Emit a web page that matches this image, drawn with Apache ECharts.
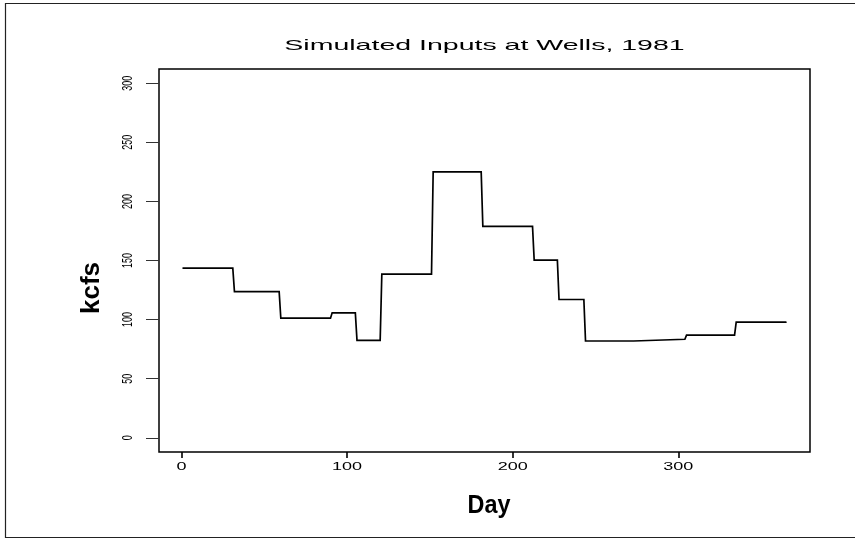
<!DOCTYPE html>
<html>
<head>
<meta charset="utf-8">
<script src="https://cdn.jsdelivr.net/npm/echarts@6/dist/echarts.min.js"></script>
<style>
  html, body { margin: 0; padding: 0; background: #fff; }
  #chart { width: 855px; height: 544px; }
</style>
</head>
<body>
<div id="chart"></div>
<script>
// Simulated daily inflow at Wells, 1981: piecewise-constant periods (day of year)
const periodStart = [1, 32, 60, 91, 106, 121, 152, 182, 213, 228, 244, 274, 305, 335];
const periodEnd   = [31, 59, 90, 105, 120, 151, 181, 212, 227, 243, 273, 304, 334, 365];
const flowKcfs    = [143.6, 123.7, 101.2, 105.7, 82.5, 138.5, 224.9, 178.8, 150.3, 117.0, 81.9, 83.4, 86.8, 97.8];

const xTicks = [0, 100, 200, 300];
const yTicks = [0, 50, 100, 150, 200, 250, 300];

// Each period contributes its first and last day at its level
const seriesData = [];
periodStart.forEach((s, i) => {
  seriesData.push([s, flowKcfs[i]]);
  seriesData.push([periodEnd[i], flowKcfs[i]]);
});

const chart = echarts.init(document.getElementById('chart'), null, { renderer: 'canvas' });
const fontMain = 'Liberation Sans, Arial, Helvetica, sans-serif';

const GRID = { left: 159, right: 45, top: 69, bottom: 92 };

chart.setOption({
  animation: false,
  backgroundColor: '#ffffff',
  grid: {
    left: GRID.left, right: GRID.right, top: GRID.top, bottom: GRID.bottom,
    show: true, borderColor: '#000', borderWidth: 1.5, backgroundColor: 'transparent'
  },
  xAxis: {
    type: 'value',
    min: -13.56, max: 379.56,
    axisLine: { show: false, onZero: false },
    splitLine: { show: false },
    axisTick: { show: true, inside: false, customValues: xTicks, length: 6, lineStyle: { color: '#000', width: 1.6 } },
    axisLabel: { show: false }
  },
  yAxis: {
    type: 'value',
    min: -12, max: 312,
    axisLine: { show: false, onZero: false },
    splitLine: { show: false },
    axisTick: { show: true, inside: false, customValues: yTicks, length: 13, lineStyle: { color: '#333', width: 1 } },
    axisLabel: { show: false }
  },
  series: [{
    type: 'line',
    data: seriesData,
    showSymbol: false,
    lineStyle: { color: '#000', width: 1.7, cap: 'round', join: 'miter' },
    z: 3
  }]
});

// Tick labels and titles, horizontally widened text placed from the axis scales
const gfx = [
  { type: 'rect', shape: { x: 5.5, y: 3.5, width: 860, height: 534 }, style: { fill: null, stroke: '#222', lineWidth: 1.2 }, silent: true },
  { type: 'text', x: 484.5, y: 46, scaleX: 1.9, style: { text: 'Simulated Inputs at Wells, 1981', font: '15px ' + fontMain, fill: '#000', textAlign: 'center', textVerticalAlign: 'middle' } },
  { type: 'text', x: 489, y: 506, scaleX: 0.9, style: { text: 'Day', font: 'bold 26px ' + fontMain, fill: '#000', textAlign: 'center', textVerticalAlign: 'middle' } },
  { type: 'text', x: 92, y: 288, rotation: Math.PI / 2, style: { text: 'kcfs', font: 'bold 26px ' + fontMain, fill: '#000', textAlign: 'center', textVerticalAlign: 'middle' } }
];
const plotBottom = 544 - GRID.bottom;
xTicks.forEach(v => {
  const p = chart.convertToPixel({ gridIndex: 0 }, [v, 0]);
  gfx.push({ type: 'text', x: p[0], y: plotBottom + 15, scaleX: 1.8,
    style: { text: String(v), font: '10px ' + fontMain, fill: '#000', textAlign: 'center', textVerticalAlign: 'middle' } });
});
yTicks.forEach(v => {
  const p = chart.convertToPixel({ gridIndex: 0 }, [0, v]);
  gfx.push({ type: 'text', x: 128, y: p[1], rotation: Math.PI / 2, scaleY: 1.7,
    style: { text: String(v), font: '9px ' + fontMain, fill: '#000', textAlign: 'center', textVerticalAlign: 'middle' } });
});
chart.setOption({ graphic: gfx });
</script>
</body>
</html>
